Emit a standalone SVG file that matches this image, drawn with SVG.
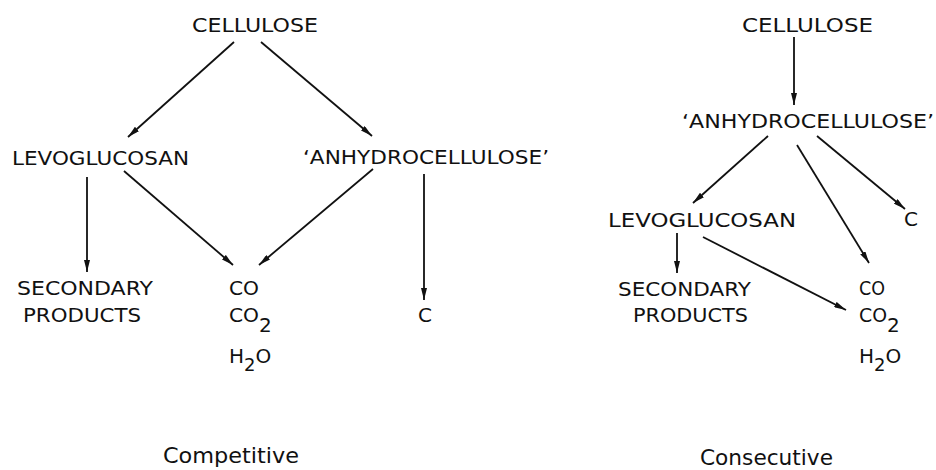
<svg xmlns="http://www.w3.org/2000/svg" width="936" height="470" viewBox="0 0 936 470">
<style>
text{font-family:"DejaVu Sans","Liberation Sans",sans-serif;font-size:20px;fill:#111;}
.ttl{font-size:21px;}
.conn line{stroke:#111;stroke-width:1.8;fill:none;marker-end:url(#ah);}
</style>
<defs>
<marker id="ah" markerUnits="userSpaceOnUse" markerWidth="13" markerHeight="6" refX="12" refY="3" orient="auto">
<path d="M0,0 L12,3 L0,6 z" fill="#111"/>
</marker>
</defs>
<rect width="936" height="470" fill="#fff"/>

<!-- Left: Competitive -->
<g id="l-cellulose"><text x="192" y="32" textLength="126" lengthAdjust="spacingAndGlyphs">CELLULOSE</text></g>
<g id="l-levoglucosan"><text x="12" y="165" textLength="177" lengthAdjust="spacingAndGlyphs">LEVOGLUCOSAN</text></g>
<g id="l-anhydro"><text x="303" y="164" textLength="246" lengthAdjust="spacingAndGlyphs">‘ANHYDROCELLULOSE’</text></g>
<g id="l-secondary"><text x="17" y="295" textLength="136" lengthAdjust="spacingAndGlyphs">SECONDARY</text><text x="23" y="322" textLength="118" lengthAdjust="spacingAndGlyphs">PRODUCTS</text></g>
<g id="l-gases">
<text x="229" y="295" textLength="30" lengthAdjust="spacingAndGlyphs">CO</text>
<text x="229" y="322"><tspan textLength="30" lengthAdjust="spacingAndGlyphs">CO</tspan><tspan dy="10">2</tspan></text>
<text x="229" y="363"><tspan>H</tspan><tspan dy="8" font-size="18">2</tspan><tspan dy="-8">O</tspan></text>
</g>
<g id="l-c"><text x="418" y="322">C</text></g>
<g id="l-title"><text class="ttl" x="163" y="463" textLength="136" lengthAdjust="spacingAndGlyphs">Competitive</text></g>

<!-- Right: Consecutive -->
<g id="r-cellulose"><text x="742" y="32" textLength="131" lengthAdjust="spacingAndGlyphs">CELLULOSE</text></g>
<g id="r-anhydro"><text x="682" y="128" textLength="252" lengthAdjust="spacingAndGlyphs">‘ANHYDROCELLULOSE’</text></g>
<g id="r-levoglucosan"><text x="608" y="227" textLength="188" lengthAdjust="spacingAndGlyphs">LEVOGLUCOSAN</text></g>
<g id="r-c"><text x="904" y="226">C</text></g>
<g id="r-secondary"><text x="618" y="296" textLength="133" lengthAdjust="spacingAndGlyphs">SECONDARY</text><text x="633" y="322" textLength="115" lengthAdjust="spacingAndGlyphs">PRODUCTS</text></g>
<g id="r-gases">
<text x="859" y="295" textLength="26" lengthAdjust="spacingAndGlyphs">CO</text>
<text x="859" y="322"><tspan textLength="28" lengthAdjust="spacingAndGlyphs">CO</tspan><tspan dy="10">2</tspan></text>
<text x="859" y="363"><tspan>H</tspan><tspan dy="8" font-size="18">2</tspan><tspan dy="-8">O</tspan></text>
</g>
<g id="r-title"><text class="ttl" x="700" y="465" textLength="133" lengthAdjust="spacingAndGlyphs">Consecutive</text></g>

<g id="connectors" class="conn">
<line x1="234" y1="42" x2="128" y2="137"/>
<line x1="261" y1="42" x2="372" y2="136"/>
<line x1="87" y1="177" x2="87" y2="272"/>
<line x1="124" y1="171" x2="233" y2="265"/>
<line x1="373" y1="169" x2="259" y2="265"/>
<line x1="424" y1="174" x2="424" y2="300"/>
<line x1="794" y1="37" x2="794" y2="105"/>
<line x1="768" y1="136" x2="693" y2="203"/>
<line x1="797" y1="145" x2="869" y2="263"/>
<line x1="817" y1="136" x2="905" y2="209"/>
<line x1="677" y1="233" x2="677" y2="273"/>
<line x1="703" y1="237" x2="846" y2="310"/>
</g>
</svg>
